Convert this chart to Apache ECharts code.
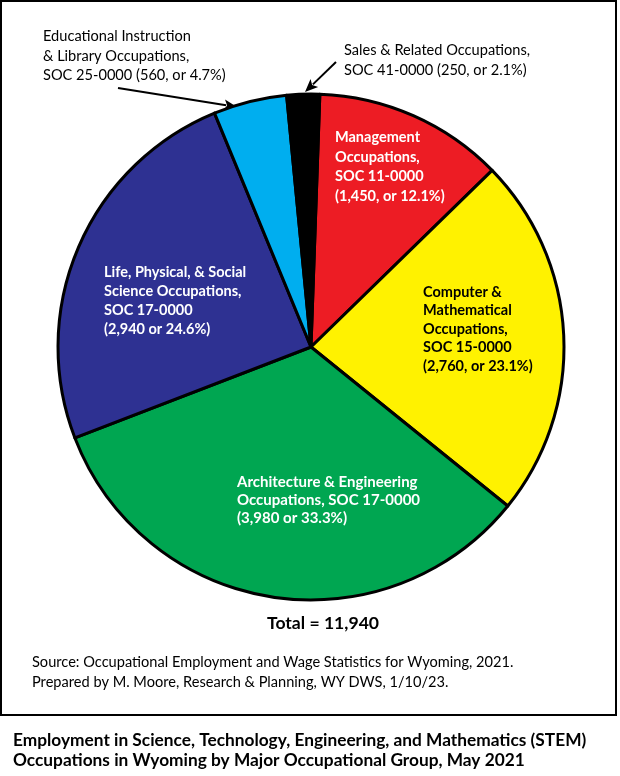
<!DOCTYPE html>
<html>
<head>
<meta charset="utf-8">
<script src="https://cdn.jsdelivr.net/npm/echarts@6/dist/echarts.min.js"></script>
<style>html,body{margin:0;padding:0;background:#fff}#c{width:620px;height:776px}</style>
</head>
<body>
<div id="c"></div>
<script>
// ---- data ----
var categories = ['Management', 'Computer & Mathematical', 'Architecture & Engineering', 'Life, Physical, & Social Science', 'Educational Instruction & Library', 'Sales & Related'];
var values = [1450, 2760, 3980, 2940, 560, 250];
var labelTexts = [
  'Management\nOccupations,\nSOC 11-0000\n(1,450, or 12.1%)',
  'Computer &\nMathematical\nOccupations,\nSOC 15-0000\n(2,760, or 23.1%)',
  'Architecture & Engineering\nOccupations, SOC 17-0000\n(3,980 or 33.3%)',
  'Life, Physical, & Social\nScience Occupations,\nSOC 17-0000\n(2,940 or 24.6%)',
  'Educational Instruction\n& Library Occupations,\nSOC 25-0000 (560, or 4.7%)',
  'Sales & Related Occupations,\nSOC 41-0000 (250, or 2.1%)'
];
var colors = ['#ED1C24', '#FFF200', '#00A651', '#2E3192', '#00AEEF', '#000000'];
var totalText = 'Total = 11,940';
var sourceText = 'Source: Occupational Employment and Wage Statistics for Wyoming, 2021.\nPrepared by M. Moore, Research & Planning, WY DWS, 1/10/23.';
var titleText = 'Employment in Science, Technology, Engineering, and Mathematics (STEM)\nOccupations in Wyoming by Major Occupational Group, May 2021';

// ---- presentation ----
var FONT = 'Lato';
var labelPos = [[335, 128], [423, 283], [237, 473], [104, 263], [43, 27], [344, 40]];
var labelStyle = [
  {color: '#fff', fontWeight: 'bold', fontSize: 14.5, lineHeight: 19.5},
  {color: '#000', fontWeight: 'bold', fontSize: 14.5, lineHeight: 18.5},
  {color: '#fff', fontWeight: 'bold', fontSize: 15, lineHeight: 18},
  {color: '#fff', fontWeight: 'bold', fontSize: 14.5, lineHeight: 19},
  {color: '#000', fontWeight: 'normal', fontSize: 14.6, lineHeight: 19.5},
  {color: '#000', fontWeight: 'normal', fontSize: 14.6, lineHeight: 20}
];

function arrow(x1, y1, x2, y2) {
  var dx = x2 - x1, dy = y2 - y1, L = Math.sqrt(dx*dx + dy*dy);
  var ux = dx / L, uy = dy / L, hl = 13, hw = 5.5;
  var bx = x2 - ux * hl, by = y2 - uy * hl;
  return [
    {type: 'line', shape: {x1: x1, y1: y1, x2: bx + ux*2, y2: by + uy*2}, style: {stroke: '#000', lineWidth: 2}},
    {type: 'polygon', shape: {points: [[x2, y2], [bx - uy*hw, by + ux*hw], [bx + ux*3, by + uy*3], [bx + uy*hw, by - ux*hw]]}, style: {fill: '#000'}}
  ];
}

var chart = echarts.init(document.getElementById('c'), null, {renderer: 'canvas'});
var data = categories.map(function (n, i) {
  return {
    name: n, value: values[i],
    itemStyle: {color: colors[i]},
    label: labelStyle[i]
  };
});

var graphics = [
  {type: 'rect', shape: {x: 1, y: 1, width: 615, height: 714}, style: {fill: 'none', stroke: '#000', lineWidth: 2}, z: 10},
  {type: 'text', style: {text: totalText, x: 323, y: 623, align: 'center', verticalAlign: 'middle', font: 'bold 17.6px ' + FONT, fill: '#000'}},
  {type: 'text', style: {text: sourceText, x: 32, y: 653, font: '14.6px ' + FONT, fill: '#000', lineHeight: 19.5}},
  {type: 'text', style: {text: titleText, x: 13, y: 730, font: 'bold 17.3px ' + FONT, fill: '#000', lineHeight: 20.5}}
].concat(arrow(118, 88, 237, 107)).concat(arrow(336, 62, 305, 92));

chart.setOption({
  animation: false,
  backgroundColor: '#fff',
  series: [{
    type: 'pie',
    center: [311, 347],
    radius: 253,
    startAngle: 88,
    clockwise: true,
    silent: true,
    itemStyle: {borderColor: '#000', borderWidth: 3},
    label: {
      show: true,
      position: 'inside',
      formatter: function (p) { return labelTexts[p.dataIndex]; },
      fontFamily: FONT,
      fontSize: 14,
      align: 'left'
    },
    labelLine: {show: false},
    labelLayout: function (p) {
      var pos = labelPos[p.dataIndex];
      return {x: pos[0], y: pos[1], align: 'left', verticalAlign: 'top', hideOverlap: false};
    },
    data: data
  }],
  graphic: graphics
});
</script>
</body>
</html>
